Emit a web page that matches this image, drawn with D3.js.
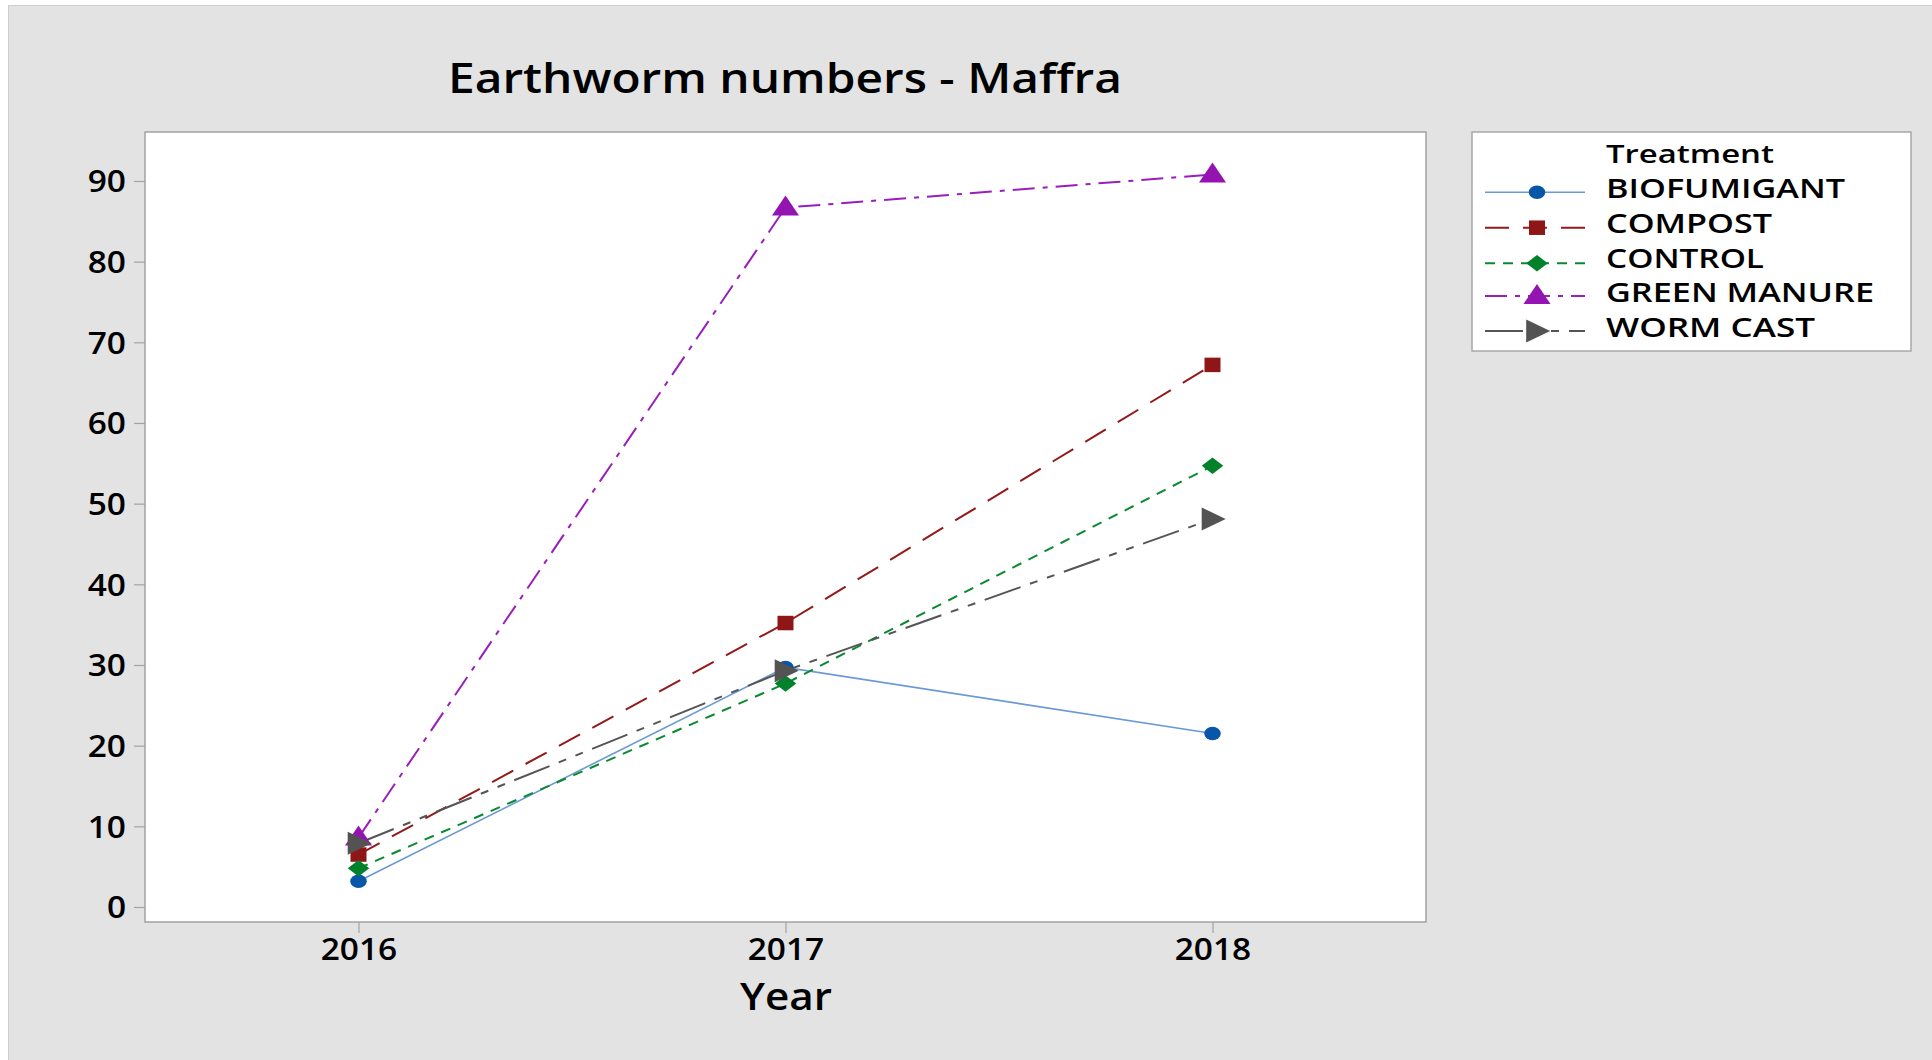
<!DOCTYPE html>
<html>
<head>
<meta charset="utf-8">
<script src="https://cdn.jsdelivr.net/npm/d3@7"></script>
<style>
  html, body { margin: 0; padding: 0; background: #ffffff; }
  svg { display: block; }
  text { font-family: "Open Sans", "Noto Sans", sans-serif; font-weight: 600; fill: #000; }
</style>
</head>
<body>
<script>
// ---------------- data ----------------
const years = [2016, 2017, 2018];
const seriesNames = ["BIOFUMIGANT", "COMPOST", "CONTROL", "GREEN MANURE", "WORM CAST"];
const biofumigant = [3.2, 29.7, 21.5];
const compost = [6.5, 35.2, 67.2];
const control = [4.8, 27.7, 54.7];
const greenManure = [8.6, 86.7, 90.8];
const wormCast = [7.9, 29.3, 48.1];
const yTicks = [0, 10, 20, 30, 40, 50, 60, 70, 80, 90];
const titleText = "Earthworm numbers - Maffra";
const xTitle = "Year";
const legendTitle = "Treatment";

// ---------------- styles ----------------
const styles = [
  { values: biofumigant, line: "#6a9ad6", marker: "#0856a8", dash: null, width: 1.6, shape: "circle" },
  { values: compost, line: "#931a1a", marker: "#8e1616", dash: "24,14", width: 2, shape: "square" },
  { values: control, line: "#0a8a30", marker: "#00812a", dash: "10,8", width: 2, shape: "diamond" },
  { values: greenManure, line: "#9a1fb8", marker: "#9414b2", dash: "22,8,5,8", width: 2, shape: "triangle" },
  { values: wormCast, line: "#555555", marker: "#535353", dash: "38,10,8,10,8,10", width: 2, shape: "right" }
];

const W = 1932, H = 1060;
const plot = { left: 145, top: 132, right: 1426, bottom: 922 };

const svg = d3.select("body").append("svg").attr("width", W).attr("height", H);

// background panel
svg.append("rect").attr("x", 0).attr("y", 0).attr("width", W).attr("height", H).attr("fill", "#ffffff");
svg.append("rect").attr("x", 8.5).attr("y", 5.5).attr("width", W).attr("height", H)
  .attr("fill", "#e3e3e3").attr("stroke", "#cfcfcf").attr("stroke-width", 1);

// plot area
svg.append("rect").attr("x", plot.left).attr("y", plot.top)
  .attr("width", plot.right - plot.left).attr("height", plot.bottom - plot.top)
  .attr("fill", "#ffffff").attr("stroke", "#a3a3a3").attr("stroke-width", 1.5);

// scales
const x = d3.scaleLinear().domain([2015.5, 2018.5]).range([plot.left, plot.right]);
const y = d3.scaleLinear().domain([-1.86, 96.07]).range([plot.bottom, plot.top]);

function fit(sel, w) {
  sel.attr("textLength", w).attr("lengthAdjust", "spacingAndGlyphs");
}

// x axis
const xAxis = svg.append("g").attr("transform", `translate(0,${plot.bottom})`)
  .call(d3.axisBottom(x).tickValues(years).tickFormat(d3.format("d")).tickSize(11).tickSizeOuter(0));
xAxis.select(".domain").remove();
xAxis.selectAll(".tick line").attr("stroke", "#a3a3a3").attr("stroke-width", 1.2);
xAxis.selectAll(".tick text").attr("y", 38).attr("dy", 0)
  .style("font-size", "30px").style("font-family", "'Open Sans', sans-serif").style("font-weight", 600).attr("fill", "#000");

// measure stretch factor
let k = 1;
xAxis.selectAll(".tick text").each(function(d, i) {
  if (i === 0) k = 76.5 / this.getComputedTextLength();
});
xAxis.selectAll(".tick text").each(function() {
  const w = this.getComputedTextLength();
  fit(d3.select(this), w * k);
});

// y axis
const yAxis = svg.append("g").attr("transform", `translate(${plot.left},0)`)
  .call(d3.axisLeft(y).tickValues(yTicks).tickSize(11).tickPadding(8).tickSizeOuter(0));
yAxis.select(".domain").remove();
yAxis.selectAll(".tick line").attr("stroke", "#a3a3a3").attr("stroke-width", 1.2);
yAxis.selectAll(".tick text").attr("dy", "0.36em")
  .style("font-size", "30px").style("font-family", "'Open Sans', sans-serif").style("font-weight", 600).attr("fill", "#000");
yAxis.selectAll(".tick text").each(function() {
  const w = this.getComputedTextLength();
  fit(d3.select(this), w * k);
});

// title
const t = svg.append("text").attr("x", 785).attr("y", 93).attr("text-anchor", "middle")
  .style("font-size", "42px").text(titleText);
fit(t, 674);

// x title
const xt = svg.append("text").attr("x", 786).attr("y", 1010).attr("text-anchor", "middle")
  .style("font-size", "37px").text(xTitle);
fit(xt, 92);

// marker path generator (width w, height h)
function shapePath(shape, w, h) {
  const a = w / 2, b = h / 2;
  switch (shape) {
    case "circle":
      return `M${-a},0A${a},${b} 0 1,0 ${a},0A${a},${b} 0 1,0 ${-a},0Z`;
    case "square":
      return `M${-a},${-b}H${a}V${b}H${-a}Z`;
    case "diamond":
      return `M0,${-b}L${a},0L0,${b}L${-a},0Z`;
    case "triangle":
      return `M0,${-h * 0.6}L${a},${h * 0.4}L${-a},${h * 0.4}Z`;
    case "right":
      return `M${w * 0.55},0L${-w * 0.45},${-b}L${-w * 0.45},${b}Z`;
  }
}
const markerSize = {
  circle: [16.5, 13.5],
  square: [16, 14.5],
  diamond: [21.5, 16.5],
  triangle: [27, 20],
  right: [24, 23]
};

// lines
const lineGen = d3.line().x((d, i) => x(years[i])).y(d => y(d));
const linesG = svg.append("g");
styles.forEach(s => {
  linesG.append("path").datum(s.values).attr("d", lineGen)
    .attr("fill", "none").attr("stroke", s.line).attr("stroke-width", s.width)
    .attr("stroke-dasharray", s.dash);
});

// markers
const markOrder = [0, 1, 2, 3, 4];
const marksG = svg.append("g");
markOrder.forEach(si => {
  const s = styles[si];
  const [mw, mh] = markerSize[s.shape];
  marksG.selectAll(null).data(s.values).enter().append("path")
    .attr("d", shapePath(s.shape, mw, mh))
    .attr("transform", (d, i) => `translate(${x(years[i])},${y(d)})`)
    .attr("fill", s.marker);
});

// legend
const lg = svg.append("g");
lg.append("rect").attr("x", 1472).attr("y", 132).attr("width", 439).attr("height", 219)
  .attr("fill", "#ffffff").attr("stroke", "#a8a8a8").attr("stroke-width", 1.5);
const lt = lg.append("text").attr("x", 1606).attr("y", 163).style("font-size", "26px").text(legendTitle);
fit(lt, 168);

const legendTextW = [239, 166, 158, 268, 209];
const rowBase = [198.3, 232.7, 268.3, 302.3, 336.7];
const rowLine = [192.3, 227.7, 263.3, 296, 331];
seriesNames.forEach((name, i) => {
  const s = styles[i];
  lg.append("line").attr("x1", 1485).attr("x2", 1585).attr("y1", rowLine[i]).attr("y2", rowLine[i])
    .attr("stroke", s.line).attr("stroke-width", s.width).attr("stroke-dasharray", s.dash);
  const [mw, mh] = markerSize[s.shape];
  lg.append("path").attr("d", shapePath(s.shape, mw, mh))
    .attr("transform", `translate(1537,${rowLine[i]})`).attr("fill", s.marker);
  const tx = lg.append("text").attr("x", 1606).attr("y", rowBase[i]).style("font-size", "27px").text(name);
  fit(tx, legendTextW[i]);
});
</script>
</body>
</html>
